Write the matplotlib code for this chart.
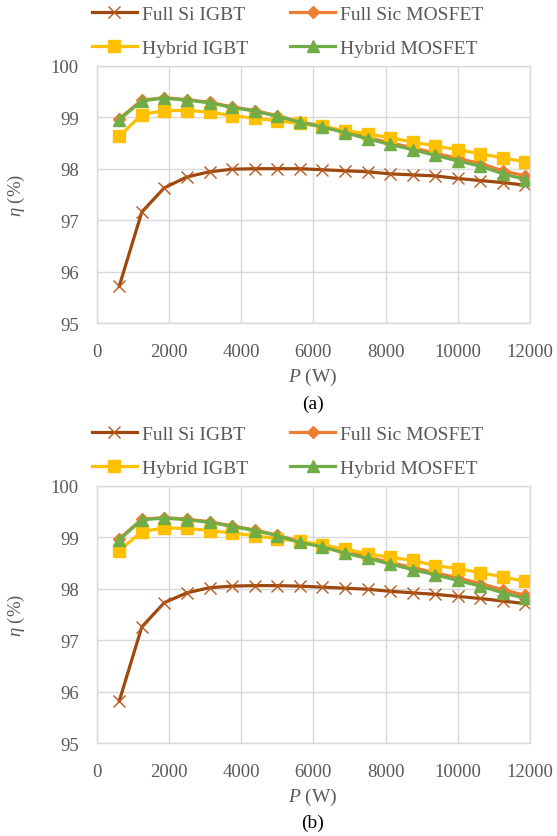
import matplotlib
matplotlib.use('Agg')
import matplotlib.pyplot as plt

# output power points (W)
power = [625 * k for k in range(1, 20)]

# (a) efficiency curves (%)
si_igbt_a = [95.72, 97.16, 97.63, 97.84, 97.94, 97.99, 98.00, 98.00, 98.00, 97.98,
             97.96, 97.94, 97.90, 97.88, 97.86, 97.81, 97.77, 97.73, 97.68]
sic_mosfet_a = [98.97, 99.33, 99.38, 99.34, 99.29, 99.20, 99.13, 99.03, 98.91, 98.83,
                98.72, 98.61, 98.50, 98.41, 98.30, 98.20, 98.10, 97.96, 97.86]
hyb_igbt_a = [98.63, 99.05, 99.13, 99.13, 99.10, 99.03, 98.98, 98.93, 98.88, 98.82,
              98.74, 98.68, 98.60, 98.52, 98.44, 98.37, 98.29, 98.21, 98.13]
hyb_mosfet_a = [98.95, 99.32, 99.37, 99.33, 99.28, 99.19, 99.12, 99.02, 98.90, 98.81,
                98.70, 98.58, 98.47, 98.37, 98.26, 98.15, 98.05, 97.90, 97.79]

# (b) efficiency curves (%)
si_igbt_b = [95.82, 97.26, 97.73, 97.92, 98.02, 98.05, 98.06, 98.06, 98.05, 98.03,
             98.01, 97.99, 97.95, 97.92, 97.89, 97.85, 97.81, 97.76, 97.71]
sic_mosfet_b = [98.97, 99.35, 99.38, 99.35, 99.30, 99.22, 99.14, 99.04, 98.92, 98.83,
                98.72, 98.62, 98.51, 98.41, 98.31, 98.21, 98.10, 97.98, 97.87]
hyb_igbt_b = [98.74, 99.11, 99.18, 99.17, 99.13, 99.08, 99.03, 98.97, 98.92, 98.85,
              98.77, 98.68, 98.61, 98.55, 98.45, 98.39, 98.31, 98.23, 98.14]
hyb_mosfet_b = [98.95, 99.34, 99.37, 99.34, 99.29, 99.21, 99.13, 99.03, 98.90, 98.81,
                98.69, 98.59, 98.48, 98.37, 98.27, 98.16, 98.05, 97.92, 97.81]

labels = ['Full Si IGBT', 'Full Sic MOSFET', 'Hybrid IGBT', 'Hybrid MOSFET']
x_ticks = [0, 2000, 4000, 6000, 8000, 10000, 12000]
y_ticks = [95, 96, 97, 98, 99, 100]

plt.rcParams['font.family'] = ['Liberation Serif', 'DejaVu Serif']
plt.rcParams['mathtext.fontset'] = 'custom'
plt.rcParams['mathtext.rm'] = 'Liberation Serif'
plt.rcParams['mathtext.it'] = 'Liberation Serif:italic'
TEXT = '#595959'
GRID = '#d9d9d9'

styles = [
    dict(color='#9e480e', marker='x', markersize=9, markeredgewidth=1.0, markeredgecolor='#b85a1c'),
    dict(color='#ed7d31', marker='D', markersize=6),
    dict(color='#ffc000', marker='s', markersize=9),
    dict(color='#70ad47', marker='^', markersize=9),
]

fig = plt.figure(figsize=(5.57, 8.37), dpi=100)
W, H = 557, 837


def panel(top_px, series, legend_top_px, xlabel_px, tag, tag_px):
    ax = fig.add_axes([96.7 / W, 1 - (top_px + 257.5) / H, 433.3 / W, 257.5 / H])
    handles = []
    for ys, st in zip(series, styles):
        h, = ax.plot(power, ys, linewidth=2.3, **st)
        handles.append(h)
    ax.set_xlim(0, 12000)
    ax.set_ylim(95, 100)
    ax.set_xticks(x_ticks)
    ax.set_yticks(y_ticks)
    ax.grid(True, color=GRID, linewidth=1.0)
    ax.set_axisbelow(True)
    for sp in ax.spines.values():
        sp.set_color(GRID)
        sp.set_linewidth(1.0)
    ax.tick_params(length=0, labelsize=13.5, colors=TEXT, pad=14)
    ax.tick_params(axis='y', pad=13)
    ax.set_ylabel(r'$\eta$ (%)', fontsize=13.5, color=TEXT, labelpad=17)
    fig.text(313 / W, 1 - xlabel_px / H, r'$P$ (W)', ha='center', va='center',
             fontsize=14, color=TEXT)
    fig.text(313 / W, 1 - tag_px / H, tag, ha='center', va='center',
             fontsize=14, color='black')
    # legend fills column-wise, so order handles to read row by row
    order = [0, 2, 1, 3]
    fig.legend([handles[i] for i in order], [labels[i] for i in order],
               ncol=2, loc='upper left',
               bbox_to_anchor=(92 / W, 1 - legend_top_px / H),
               frameon=False, fontsize=14, labelcolor=TEXT,
               handlelength=2.3, handletextpad=0.25, columnspacing=2.2,
               labelspacing=0.85, borderpad=0, borderaxespad=0)
    return ax


panel(66.7, [si_igbt_a, sic_mosfet_a, hyb_igbt_a, hyb_mosfet_a], 6, 377, '(a)', 404)
panel(486.7, [si_igbt_b, sic_mosfet_b, hyb_igbt_b, hyb_mosfet_b], 426, 797, '(b)', 823)

fig.savefig('out.png', dpi=100)
